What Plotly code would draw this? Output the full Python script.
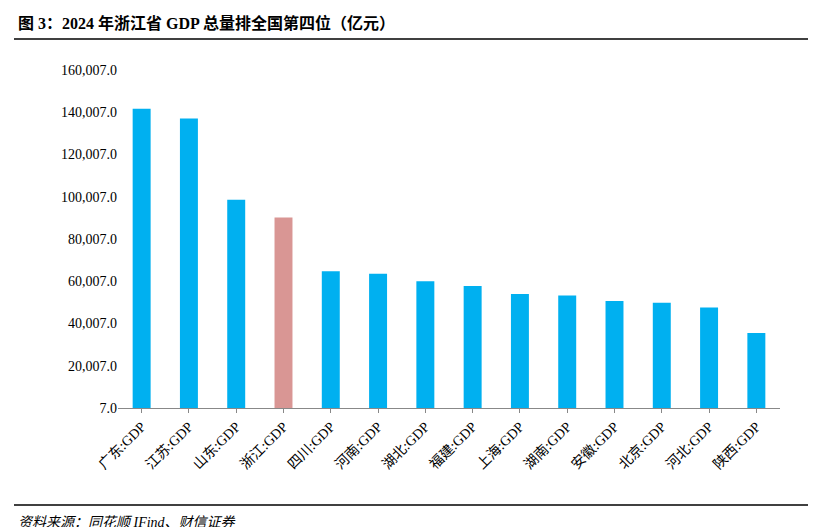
import plotly.graph_objects as go

provinces = ['广东:GDP', '江苏:GDP', '山东:GDP', '浙江:GDP', '四川:GDP', '河南:GDP', '湖北:GDP',
             '福建:GDP', '上海:GDP', '湖南:GDP', '安徽:GDP', '北京:GDP', '河北:GDP', '陕西:GDP']
gdp = [141634, 137008, 98566, 90131, 64697, 63590, 60013, 57761, 53927, 53231, 50625, 49843, 47527, 35538]
tick_vals = [7, 20007, 40007, 60007, 80007, 100007, 120007, 140007, 160007]
tick_text = ['7.0', '20,007.0', '40,007.0', '60,007.0', '80,007.0', '100,007.0', '120,007.0', '140,007.0', '160,007.0']

colors = ['#D99694' if p.startswith('浙江') else '#00B0F0' for p in provinces]

font = 'Times New Roman, Liberation Serif, Noto Sans CJK SC'

fig = go.Figure()
fig.add_trace(go.Bar(x=provinces, y=gdp, marker=dict(color=colors, line=dict(width=0))))

# plot area: l=110, r=44, t=62, b=127 -> width 662, height 338
W, H = 816 - 110 - 44, 527 - 62 - 127
def px(x): return (x - 110) / W
def py(y): return (400 - y) / H

fig.update_layout(
    width=816, height=527,
    margin=dict(l=110, r=44, t=62, b=127, autoexpand=False),
    plot_bgcolor='white', paper_bgcolor='white',
    showlegend=False, bargap=0.62,
    font=dict(family=font, size=14, color='black'),
    xaxis=dict(tickangle=-45, showline=True, linecolor='#888888', ticks='outside', automargin=False,
               ticklen=4, tickcolor='#888888', tickfont=dict(size=14)),
    yaxis=dict(range=[7, 160007], tickvals=tick_vals, ticktext=tick_text, showgrid=False,
               automargin=False, showline=False, zeroline=False, tickfont=dict(size=14)),
    shapes=[
        dict(type='line', xref='paper', yref='paper', x0=px(6), x1=px(810), y0=py(31), y1=py(31),
             line=dict(color='black', width=1.5)),
        dict(type='line', xref='paper', yref='paper', x0=px(6), x1=px(810), y0=py(497), y1=py(497),
             line=dict(color='black', width=1.5)),
    ],
    annotations=[
        dict(text='<b>图 3：2024 年浙江省 GDP 总量排全国第四位（亿元）</b>', xref='paper', yref='paper',
             x=px(8), y=py(15), xanchor='left', yanchor='middle', showarrow=False,
             font=dict(size=16, family=font)),
        dict(text='<i>资料来源：同花顺 IFind、财信证券</i>', xref='paper', yref='paper',
             x=px(8), y=py(514), xanchor='left', yanchor='middle', showarrow=False,
             font=dict(size=14, family=font)),
    ],
)

fig.write_html('out.html')
